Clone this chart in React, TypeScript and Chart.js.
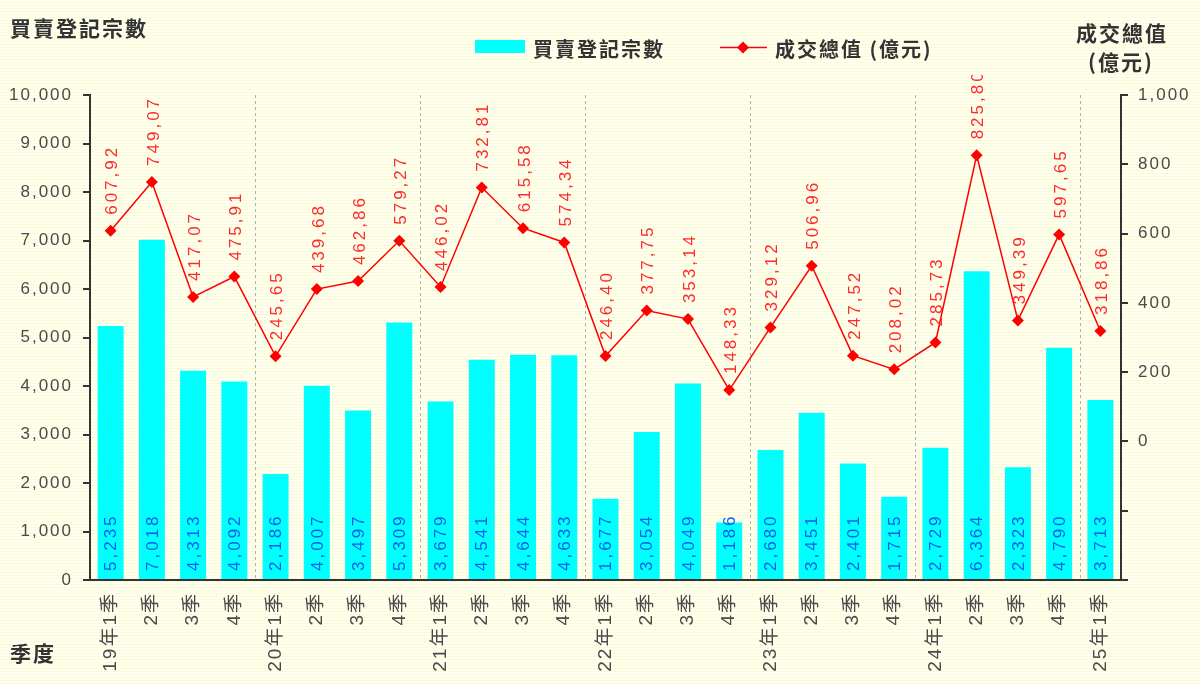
import React, { useEffect, useRef } from "react";
import { Chart, registerables } from "chart.js";

Chart.register(...registerables);

// Quarter labels (year shown on the first quarter of each year)
const quarters = [
  "19年1季", "2季", "3季", "4季",
  "20年1季", "2季", "3季", "4季",
  "21年1季", "2季", "3季", "4季",
  "22年1季", "2季", "3季", "4季",
  "23年1季", "2季", "3季", "4季",
  "24年1季", "2季", "3季", "4季",
  "25年1季",
];

// 買賣登記宗數
const registrations = [
  5235, 7018, 4313, 4092,
  2186, 4007, 3497, 5309,
  3679, 4541, 4644, 4633,
  1677, 3054, 4049, 1186,
  2680, 3451, 2401, 1715,
  2729, 6364, 2323, 4790,
  3713,
];

// 成交總值 (億元)
const totalValue = [
  607.92, 749.07, 417.07, 475.91,
  245.65, 439.68, 462.86, 579.27,
  446.02, 732.81, 615.58, 574.34,
  246.4, 377.75, 353.14, 148.33,
  329.12, 506.96, 247.52, 208.02,
  285.73, 825.8, 349.39, 597.65,
  318.86,
];

const countAxis = { min: 0, max: 10000, step: 1000 };
const valueAxis = { min: -400, max: 1000, step: 200 };

const countLabel = "買賣登記宗數";
const valueLabel = "成交總值 (億元)";
const leftTitle = "買賣登記宗數";
const rightTitle = ["成交總值", "(億元)"];
const xTitle = "季度";

const LATIN = '"Liberation Sans", "Noto Sans CJK TC", sans-serif';
const CJK = '"Noto Sans CJK TC", "Noto Sans CJK SC", sans-serif';
const AXIS_DARK = "#333333";
const TICK_TEXT = "#4a4a4a";
const BAR_COLOR = "#00FFFF";
const LINE_COLOR = "#FF0000";
const BAR_TEXT = "#0a5cf0";
const LINE_TEXT = "#ff2a2a";

const fmtInt = (n: number) => Math.round(n).toLocaleString("en-US");
const fmtDec = (n: number) => n.toFixed(2).replace(".", ",");

// Global letter spacing for all text drawn by the chart
const spacingPlugin = {
  id: "spacing",
  beforeDraw(chart: any) {
    (chart.ctx as any).letterSpacing = "2px";
  },
};

// Dashed separators between years
const yearLinesPlugin = {
  id: "yearLines",
  beforeDatasetsDraw(chart: any) {
    const { ctx, chartArea, scales } = chart;
    const x = scales.x;
    ctx.save();
    ctx.strokeStyle = "#b0b0b0";
    ctx.lineWidth = 1;
    ctx.setLineDash([3, 3]);
    quarters.forEach((q, i) => {
      if (i === 0 || !q.includes("年")) return;
      const px = Math.round((x.getPixelForValue(i - 1) + x.getPixelForValue(i)) / 2) + 0.5;
      ctx.beginPath();
      ctx.moveTo(px, chartArea.top);
      ctx.lineTo(px, chartArea.bottom);
      ctx.stroke();
    });
    ctx.restore();
  },
};

// Rotated value labels for bars and line points
const valueLabelsPlugin = {
  id: "valueLabels",
  afterDatasetsDraw(chart: any) {
    const { ctx, chartArea } = chart;
    const bars = chart.getDatasetMeta(0).data;
    const points = chart.getDatasetMeta(1).data;

    ctx.save();
    ctx.font = `17px ${LATIN}`;
    (ctx as any).letterSpacing = "3px";
    ctx.textAlign = "left";
    ctx.textBaseline = "middle";
    ctx.fillStyle = BAR_TEXT;
    bars.forEach((el: any, i: number) => {
      ctx.save();
      ctx.translate(el.x, chartArea.bottom - 9);
      ctx.rotate(-Math.PI / 2);
      ctx.fillText(fmtInt(registrations[i]), 0, 1);
      ctx.restore();
    });

    // point labels are cut off just below the legend row
    ctx.beginPath();
    ctx.rect(0, 75, chart.width, chart.height - 75);
    ctx.clip();
    ctx.fillStyle = LINE_TEXT;
    points.forEach((el: any, i: number) => {
      ctx.save();
      ctx.translate(el.x, el.y - 16);
      ctx.rotate(-Math.PI / 2);
      ctx.fillText(fmtDec(totalValue[i]), 0, 2);
      ctx.restore();
    });
    ctx.restore();
  },
};

// Axis titles and legend
const decorPlugin = {
  id: "decor",
  afterDraw(chart: any) {
    const { ctx } = chart;
    ctx.save();
    ctx.fillStyle = "#333333";
    ctx.textBaseline = "middle";
    (ctx as any).letterSpacing = "2px";
    ctx.font = `bold 21px ${CJK}`;
    ctx.textAlign = "left";
    ctx.fillText(leftTitle, 10, 28);
    ctx.fillText(xTitle, 10, 653);
    ctx.textAlign = "center";
    ctx.fillText(rightTitle[0], 1122, 33);
    ctx.fillText(rightTitle[1], 1121, 62);

    // legend: bars
    ctx.fillStyle = BAR_COLOR;
    ctx.fillRect(475, 40, 50, 13);
    ctx.fillStyle = "#333333";
    ctx.textAlign = "left";
    ctx.font = `bold 20px ${CJK}`;
    ctx.fillText(countLabel, 533, 49);

    // legend: line
    ctx.strokeStyle = LINE_COLOR;
    ctx.lineWidth = 1.5;
    ctx.beginPath();
    ctx.moveTo(720, 47.5);
    ctx.lineTo(767, 47.5);
    ctx.stroke();
    ctx.fillStyle = LINE_COLOR;
    ctx.beginPath();
    ctx.moveTo(743, 41.5);
    ctx.lineTo(749, 47.5);
    ctx.lineTo(743, 53.5);
    ctx.lineTo(737, 47.5);
    ctx.closePath();
    ctx.fill();
    ctx.fillStyle = "#333333";
    ctx.fillText(valueLabel, 775, 49);
    ctx.restore();
  },
};

export default function App() {
  const canvasRef = useRef<HTMLCanvasElement>(null);

  useEffect(() => {
    document.body.style.margin = "0";
    const canvas = canvasRef.current;
    if (!canvas) return;

    const axisGrid = {
      drawOnChartArea: false,
      drawTicks: true,
      tickLength: 7,
      color: AXIS_DARK,
      lineWidth: 2,
    };

    const chart = new Chart(canvas, {
      type: "bar",
      data: {
        labels: quarters,
        datasets: [
          {
            type: "bar",
            label: countLabel,
            data: registrations,
            backgroundColor: BAR_COLOR,
            yAxisID: "y",
            order: 2,
            barPercentage: 0.63,
            categoryPercentage: 1,
          },
          {
            type: "line",
            label: valueLabel,
            data: totalValue,
            borderColor: LINE_COLOR,
            backgroundColor: LINE_COLOR,
            borderWidth: 1.5,
            pointStyle: "rectRot",
            pointRadius: 6,
            pointBorderWidth: 0,
            tension: 0,
            yAxisID: "y1",
            order: 1,
          },
        ],
      } as any,
      options: {
        responsive: false,
        animation: false,
        layout: { padding: { top: 95, left: 0, right: 0, bottom: 0 } },
        plugins: {
          legend: { display: false },
          tooltip: { enabled: false },
        },
        scales: {
          x: {
            offset: true,
            grid: { display: false, drawTicks: false },
            border: { display: true, color: AXIS_DARK, width: 2 },
            ticks: {
              autoSkip: false,
              maxRotation: 90,
              minRotation: 90,
              padding: 12,
              color: TICK_TEXT,
              font: { family: LATIN, size: 19 },
            },
            afterFit: (s: any) => {
              s.height = 104;
            },
          },
          y: {
            position: "left",
            min: countAxis.min,
            max: countAxis.max,
            grid: axisGrid,
            border: { display: true, color: AXIS_DARK, width: 2 },
            ticks: {
              stepSize: countAxis.step,
              padding: 10,
              color: TICK_TEXT,
              font: { family: LATIN, size: 17 },
              callback: (v: any) => fmtInt(Number(v)),
            },
            afterFit: (s: any) => {
              s.width = 90;
            },
          },
          y1: {
            position: "right",
            min: valueAxis.min,
            max: valueAxis.max,
            grid: axisGrid,
            border: { display: true, color: AXIS_DARK, width: 2 },
            ticks: {
              stepSize: valueAxis.step,
              padding: 10,
              color: TICK_TEXT,
              font: { family: LATIN, size: 17 },
              callback: (v: any) => (Number(v) < 0 ? "" : fmtInt(Number(v))),
            },
            afterFit: (s: any) => {
              s.width = 79;
            },
          },
        },
      } as any,
      plugins: [spacingPlugin, yearLinesPlugin, valueLabelsPlugin, decorPlugin],
    });

    return () => chart.destroy();
  }, []);

  return (
    <div
      style={{
        position: "fixed",
        left: 0,
        top: 0,
        width: 1200,
        height: 684,
        background:
          "repeating-linear-gradient(to bottom, #fffff2 0px, #fffff2 2px, #fafad4 2px, #fafad4 3px)",
      }}
    >
      <canvas ref={canvasRef} width={1200} height={684} style={{ display: "block" }} />
    </div>
  );
}
